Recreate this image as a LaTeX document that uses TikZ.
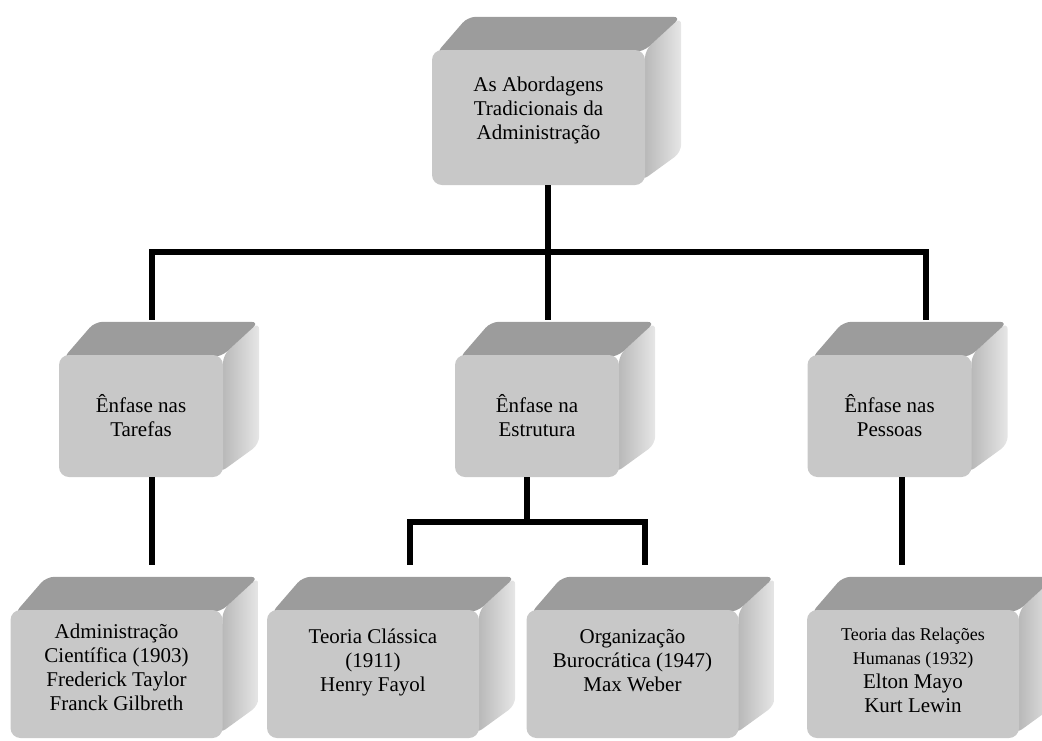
\documentclass[tikz,border=0pt]{standalone}
\usepackage{fontspec}
\setmainfont{Liberation Serif}
\usetikzlibrary{backgrounds}

\definecolor{frontgray}{RGB}{200,200,200}
\definecolor{topgray}{RGB}{156,156,156}
\definecolor{sidedark}{RGB}{180,180,180}
\definecolor{sidelight}{RGB}{226,226,226}

\tikzset{
  cube/.style={rectangle, rounded corners=10pt, fill=frontgray, align=center,
    inner sep=0pt, font=\fontsize{21}{24}\selectfont},
  bigcube/.style={cube, minimum width=213pt, minimum height=135pt, text depth=18pt},
  midcube/.style={cube, minimum width=164pt, minimum height=122pt},
  lowcube/.style={cube, minimum width=212pt, minimum height=128pt, text depth=28pt},
  conn/.style={line width=6pt, line join=miter},
  topface/.style={fill=topgray, rounded corners=8pt},
  sideface/.style={left color=sidedark, middle color=sidelight,
    right color=sidelight!85!white, rounded corners=8pt},
}

% top and right faces of a bevelled block, drawn behind its front face
\newcommand\blocksides[1]{%
  \begin{pgfonlayer}{background}
    \path[sideface] (#1.north east) -- ([xshift=36pt,yshift=33pt]#1.north east)
      -- ([xshift=36pt,yshift=33pt]#1.south east)
      -- ([xshift=-4pt,yshift=4pt]#1.south east) -- cycle;
    \path[topface] ([xshift=4pt,yshift=-4pt]#1.north west)
      -- ([xshift=36pt,yshift=33pt]#1.north west)
      -- ([xshift=36pt,yshift=33pt]#1.north east)
      -- ([xshift=-2pt,yshift=-2pt]#1.north east) -- cycle;
  \end{pgfonlayer}}

\begin{document}
\begin{tikzpicture}[x=1pt,y=-1pt]
\useasboundingbox (0,0) rectangle (1042,740);

% blocks
\node[bigcube] (root) at (538.5,117.5) {As Abordagens\\Tradicionais da\\Administração};
\node[midcube] (tar) at (141,416) {Ênfase nas\\Tarefas};
\node[midcube] (est) at (537,416) {Ênfase na\\Estrutura};
\node[midcube] (pes) at (889.5,416) {Ênfase nas\\Pessoas};
\node[lowcube, text depth=14pt] (adm) at (116.5,674)
  {Administração\\Científica (1903)\\Frederick Taylor\\Franck Gilbreth};
\node[lowcube] (cla) at (373,674) {Teoria Clássica\\(1911)\\Henry Fayol};
\node[lowcube] (bur) at (632.5,674) {Organização\\Burocrática (1947)\\Max Weber};
\node[lowcube, text depth=8pt] (rel) at (913,674)
  {\fontsize{18}{21}\selectfont Teoria das Relações\\
   \fontsize{18}{21}\selectfont Humanas (1932)\\
   \fontsize{21}{24}\selectfont Elton Mayo\\
   \fontsize{21}{24}\selectfont Kurt Lewin};

\foreach \b in {root,tar,est,pes,adm,cla,bur,rel}{\blocksides{\b}}

% connector end points
\coordinate (rootbot) at ([xshift=9.5pt]root.south);
\coordinate (tartop) at ([xshift=11pt,yshift=35pt]tar.north);
\coordinate (esttop) at ([xshift=11pt,yshift=35pt]est.north);
\coordinate (pestop) at ([xshift=36.5pt,yshift=35pt]pes.north);
\coordinate (tarbot) at ([xshift=11pt]tar.south);
\coordinate (estbot) at ([xshift=-10pt]est.south);
\coordinate (pesbot) at ([xshift=12.5pt]pes.south);
\coordinate (admtop) at ([xshift=35.5pt,yshift=45pt]adm.north);
\coordinate (clatop) at ([xshift=37pt,yshift=45pt]cla.north);
\coordinate (burtop) at ([xshift=12.5pt,yshift=45pt]bur.north);
\coordinate (reltop) at ([xshift=-11pt,yshift=45pt]rel.north);
\coordinate (hub) at (rootbot |- 0,252);
\coordinate (fork) at (clatop |- 0,522);

% connectors
\draw[conn] (rootbot) -- (esttop);
\draw[conn] (tartop) |- (hub) -| (pestop);
\draw[conn] (tarbot) -- (admtop);
\draw[conn] (estbot) -- (estbot |- fork);
\draw[conn] (clatop) -- (fork) -| (burtop);
\draw[conn] (pesbot) -- (reltop);
\end{tikzpicture}
\end{document}
